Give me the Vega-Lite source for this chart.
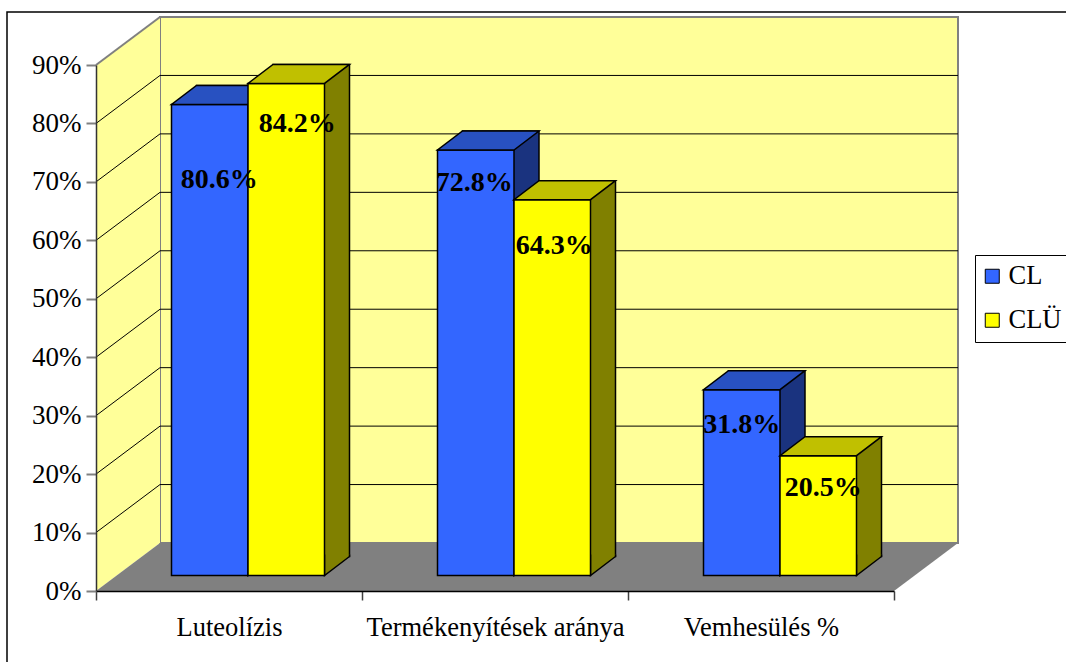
{
  "$schema": "https://vega.github.io/schema/vega-lite/v6.json",
  "width": 798,
  "height": 526,
  "autosize": {"type": "none"},
  "padding": {"left": 160, "top": 17, "right": 108, "bottom": 119},
  "background": "white",
  "view": {"fill": "#FFFF99", "stroke": "#808080", "strokeWidth": 2},
  "config": {"font": "Liberation Serif"},
  "datasets": {
    "bars": [
      {"category": "Luteolízis", "series": "CL", "value": 0.806},
      {"category": "Luteolízis", "series": "CLÜ", "value": 0.842},
      {"category": "Termékenyítések aránya", "series": "CL", "value": 0.728},
      {"category": "Termékenyítések aránya", "series": "CLÜ", "value": 0.643},
      {"category": "Vemhesülés %", "series": "CL", "value": 0.318},
      {"category": "Vemhesülés %", "series": "CLÜ", "value": 0.205}
    ],
    "grid": [
      {"v": 0}, {"v": 0.1}, {"v": 0.2}, {"v": 0.3}, {"v": 0.4},
      {"v": 0.5}, {"v": 0.6}, {"v": 0.7}, {"v": 0.8}, {"v": 0.9}
    ]
  },
  "layer": [
    {
      "data": {"name": "grid"},
      "transform": [{"filter": "datum.v == 0"}],
      "mark": {"type": "point", "shape": "M0,0L0,-526L-64,-478L-64,48Z", "size": 4, "filled": true, "fill": "#FFFF99", "opacity": 1},
      "encoding": {
        "x": {"datum": "Luteolízis", "type": "nominal", "bandPosition": 0, "title": null, "scale": {"type": "band", "domain": ["Luteolízis", "Termékenyítések aránya", "Vemhesülés %"], "paddingInner": 0, "paddingOuter": 0}},
        "y": {"field": "v", "type": "quantitative", "title": null, "scale": {"domain": [0, 0.9], "nice": false, "zero": true}}
      }
    },
    {
      "data": {"name": "grid"},
      "transform": [{"filter": "datum.v == 0"}],
      "mark": {"type": "point", "shape": "M0,0L798,0L734,48L-64,48Z", "size": 4, "filled": true, "fill": "#808080", "opacity": 1},
      "encoding": {
        "x": {"datum": "Luteolízis", "type": "nominal", "bandPosition": 0, "title": null},
        "y": {"field": "v", "type": "quantitative", "title": null}
      }
    },
    {
      "data": {"name": "grid"},
      "transform": [{"filter": "datum.v == 0"}],
      "mark": {"type": "point", "shape": "M0,-526L-64,-478", "size": 4, "filled": false, "stroke": "#808080", "strokeWidth": 2, "opacity": 1},
      "encoding": {
        "x": {"datum": "Luteolízis", "type": "nominal", "bandPosition": 0, "title": null},
        "y": {"field": "v", "type": "quantitative", "title": null}
      }
    },
    {
      "data": {"name": "grid"},
      "transform": [{"filter": "datum.v > 0 && datum.v < 0.85"}],
      "mark": {"type": "point", "shape": "M0,0L-64,48", "size": 4, "filled": false, "stroke": "black", "strokeWidth": 1, "opacity": 1},
      "encoding": {
        "x": {"datum": "Luteolízis", "type": "nominal", "bandPosition": 0, "title": null},
        "y": {"field": "v", "type": "quantitative", "title": null}
      }
    },
    {
      "data": {"name": "grid"},
      "transform": [{"filter": "datum.v > 0 && datum.v < 0.85"}],
      "mark": {"type": "rule", "color": "black", "strokeWidth": 1, "opacity": 1},
      "encoding": {
        "y": {"field": "v", "type": "quantitative", "title": null}
      }
    },
    {
      "data": {"name": "bars"},
      "transform": [{"filter": "datum.series == 'CL'"}],
      "mark": {"type": "bar", "width": 76.5, "xOffset": -58.25, "x2Offset": -58.25, "yOffset": 13.5, "y2Offset": 13.5, "fill": "#1A337F", "stroke": "black", "strokeWidth": 1.5, "opacity": 1},
      "encoding": {
        "x": {"field": "category", "type": "nominal", "title": null},
        "y": {"field": "value", "type": "quantitative", "title": null}
      }
    },
    {
      "data": {"name": "bars"},
      "transform": [{"filter": "datum.series == 'CL'"}],
      "mark": {"type": "point", "shape": "M0,-21L0,0L25,-19L25,-21", "size": 4, "filled": true, "fill": "#1A337F", "stroke": "black", "strokeWidth": 1.5, "xOffset": -45, "yOffset": 32.5, "opacity": 1},
      "encoding": {
        "x": {"field": "category", "type": "nominal", "title": null},
        "y": {"datum": 0, "type": "quantitative", "title": null}
      }
    },
    {
      "data": {"name": "bars"},
      "transform": [{"filter": "datum.series == 'CL'"}],
      "mark": {"type": "bar", "width": 76.5, "xOffset": -83.25, "x2Offset": -83.25, "yOffset": 32.5, "y2Offset": 32.5, "stroke": "black", "strokeWidth": 1.5, "opacity": 1},
      "encoding": {
        "x": {
          "field": "category", "type": "nominal", "sort": null, "title": null,
          "axis": {"orient": "bottom", "title": null, "offset": 48, "position": -64, "labelAngle": 0, "labelAlign": "center", "labelBaseline": "top", "labelLimit": 500, "labelFont": "Liberation Serif", "labelFontSize": 26.5, "labelColor": "black", "labelPadding": 14, "tickBand": "extent", "tickSize": 9, "tickColor": "#404040", "tickWidth": 1.5, "domainColor": "black", "domainWidth": 1.5, "grid": false, "zindex": 1}
        },
        "y": {
          "field": "value", "type": "quantitative", "title": null,
          "axis": {"orient": "left", "title": null, "offset": 64, "position": 48, "values": [0, 0.1, 0.2, 0.3, 0.4, 0.5, 0.6, 0.7, 0.8, 0.9], "format": ".0%", "labelFont": "Liberation Serif", "labelFontSize": 27, "labelColor": "black", "labelPadding": 5, "tickSize": 10, "tickColor": "#808080", "tickWidth": 2, "domainColor": "#333333", "domainWidth": 1.5, "grid": false, "zindex": 1}
        },
        "color": {
          "field": "series", "type": "nominal", "title": null,
          "scale": {"domain": ["CL", "CLÜ"], "range": ["#3366FF", "#FFFF00"]},
          "legend": {"orient": "none", "legendX": 815, "legendY": 238, "title": null, "symbolType": "square", "symbolSize": 196, "symbolStrokeColor": "black", "symbolStrokeWidth": 1, "symbolOffset": -4, "labelFont": "Liberation Serif", "labelFontSize": 26.5, "labelColor": "black", "fillColor": "white", "strokeColor": "black", "padding": 8, "rowPadding": 17, "labelOffset": 3}
        }
      }
    },
    {
      "data": {"name": "bars"},
      "transform": [{"filter": "datum.series == 'CL'"}],
      "mark": {"type": "point", "shape": "M-38.25,0L38.25,0L63.25,-19L-13.25,-19Z", "size": 4, "filled": true, "fill": "#2851C1", "stroke": "black", "strokeWidth": 1.5, "xOffset": -83.25, "yOffset": 32.5, "opacity": 1},
      "encoding": {
        "x": {"field": "category", "type": "nominal", "title": null},
        "y": {"field": "value", "type": "quantitative", "title": null}
      }
    },
    {
      "data": {"name": "bars"},
      "transform": [{"filter": "datum.series == 'CLÜ'"}],
      "mark": {"type": "bar", "width": 76.5, "xOffset": 18.25, "x2Offset": 18.25, "yOffset": 13.5, "y2Offset": 13.5, "fill": "#808000", "stroke": "black", "strokeWidth": 1.5, "opacity": 1},
      "encoding": {
        "x": {"field": "category", "type": "nominal", "title": null},
        "y": {"field": "value", "type": "quantitative", "title": null}
      }
    },
    {
      "data": {"name": "bars"},
      "transform": [{"filter": "datum.series == 'CLÜ'"}],
      "mark": {"type": "point", "shape": "M0,-21L0,0L25,-19L25,-21", "size": 4, "filled": true, "fill": "#808000", "stroke": "black", "strokeWidth": 1.5, "xOffset": 31.5, "yOffset": 32.5, "opacity": 1},
      "encoding": {
        "x": {"field": "category", "type": "nominal", "title": null},
        "y": {"datum": 0, "type": "quantitative", "title": null}
      }
    },
    {
      "data": {"name": "bars"},
      "transform": [{"filter": "datum.series == 'CLÜ'"}],
      "mark": {"type": "bar", "width": 76.5, "xOffset": -6.75, "x2Offset": -6.75, "yOffset": 32.5, "y2Offset": 32.5, "stroke": "black", "strokeWidth": 1.5, "opacity": 1},
      "encoding": {
        "x": {"field": "category", "type": "nominal", "title": null},
        "y": {"field": "value", "type": "quantitative", "title": null},
        "color": {"field": "series", "type": "nominal", "title": null}
      }
    },
    {
      "data": {"name": "bars"},
      "transform": [{"filter": "datum.series == 'CLÜ'"}],
      "mark": {"type": "point", "shape": "M-38.25,0L38.25,0L63.25,-19L-13.25,-19Z", "size": 4, "filled": true, "fill": "#C0C000", "stroke": "black", "strokeWidth": 1.5, "xOffset": -6.75, "yOffset": 32.5, "opacity": 1},
      "encoding": {
        "x": {"field": "category", "type": "nominal", "title": null},
        "y": {"field": "value", "type": "quantitative", "title": null}
      }
    },
    {
      "data": {"name": "bars"},
      "transform": [{"filter": "datum.category == 'Luteolízis' && datum.series == 'CL'"}],
      "mark": {"type": "text", "font": "Liberation Serif", "fontWeight": "bold", "fontSize": 28, "color": "black", "align": "center", "baseline": "alphabetic", "xOffset": -73.75, "yOffset": 116.1},
      "encoding": {
        "x": {"field": "category", "type": "nominal", "title": null},
        "y": {"field": "value", "type": "quantitative", "title": null},
        "text": {"field": "value", "type": "quantitative", "format": ".1%"}
      }
    },
    {
      "data": {"name": "bars"},
      "transform": [{"filter": "datum.category == 'Luteolízis' && datum.series == 'CLÜ'"}],
      "mark": {"type": "text", "font": "Liberation Serif", "fontWeight": "bold", "fontSize": 28, "color": "black", "align": "center", "baseline": "alphabetic", "xOffset": 4.25, "yOffset": 80.8},
      "encoding": {
        "x": {"field": "category", "type": "nominal", "title": null},
        "y": {"field": "value", "type": "quantitative", "title": null},
        "text": {"field": "value", "type": "quantitative", "format": ".1%"}
      }
    },
    {
      "data": {"name": "bars"},
      "transform": [{"filter": "datum.category == 'Termékenyítések aránya' && datum.series == 'CL'"}],
      "mark": {"type": "text", "font": "Liberation Serif", "fontWeight": "bold", "fontSize": 28, "color": "black", "align": "center", "baseline": "alphabetic", "xOffset": -84.75, "yOffset": 73.2},
      "encoding": {
        "x": {"field": "category", "type": "nominal", "title": null},
        "y": {"field": "value", "type": "quantitative", "title": null},
        "text": {"field": "value", "type": "quantitative", "format": ".1%"}
      }
    },
    {
      "data": {"name": "bars"},
      "transform": [{"filter": "datum.category == 'Termékenyítések aránya' && datum.series == 'CLÜ'"}],
      "mark": {"type": "text", "font": "Liberation Serif", "fontWeight": "bold", "fontSize": 28, "color": "black", "align": "center", "baseline": "alphabetic", "xOffset": -4.75, "yOffset": 87.1},
      "encoding": {
        "x": {"field": "category", "type": "nominal", "title": null},
        "y": {"field": "value", "type": "quantitative", "title": null},
        "text": {"field": "value", "type": "quantitative", "format": ".1%"}
      }
    },
    {
      "data": {"name": "bars"},
      "transform": [{"filter": "datum.category == 'Vemhesülés %' && datum.series == 'CL'"}],
      "mark": {"type": "text", "font": "Liberation Serif", "fontWeight": "bold", "fontSize": 28, "color": "black", "align": "center", "baseline": "alphabetic", "xOffset": -83.25, "yOffset": 75.6},
      "encoding": {
        "x": {"field": "category", "type": "nominal", "title": null},
        "y": {"field": "value", "type": "quantitative", "title": null},
        "text": {"field": "value", "type": "quantitative", "format": ".1%"}
      }
    },
    {
      "data": {"name": "bars"},
      "transform": [{"filter": "datum.category == 'Vemhesülés %' && datum.series == 'CLÜ'"}],
      "mark": {"type": "text", "font": "Liberation Serif", "fontWeight": "bold", "fontSize": 28, "color": "black", "align": "center", "baseline": "alphabetic", "xOffset": -1.75, "yOffset": 72.8},
      "encoding": {
        "x": {"field": "category", "type": "nominal", "title": null},
        "y": {"field": "value", "type": "quantitative", "title": null},
        "text": {"field": "value", "type": "quantitative", "format": ".1%"}
      }
    },
    {
      "data": {"name": "grid"},
      "transform": [{"filter": "datum.v == 0.9"}],
      "mark": {"type": "point", "shape": "M1000,-5L-153,-5L-153,700", "size": 4, "filled": false, "stroke": "black", "strokeWidth": 1.5, "opacity": 1},
      "encoding": {
        "x": {"datum": "Luteolízis", "type": "nominal", "bandPosition": 0, "title": null},
        "y": {"field": "v", "type": "quantitative", "title": null}
      }
    }
  ]
}
